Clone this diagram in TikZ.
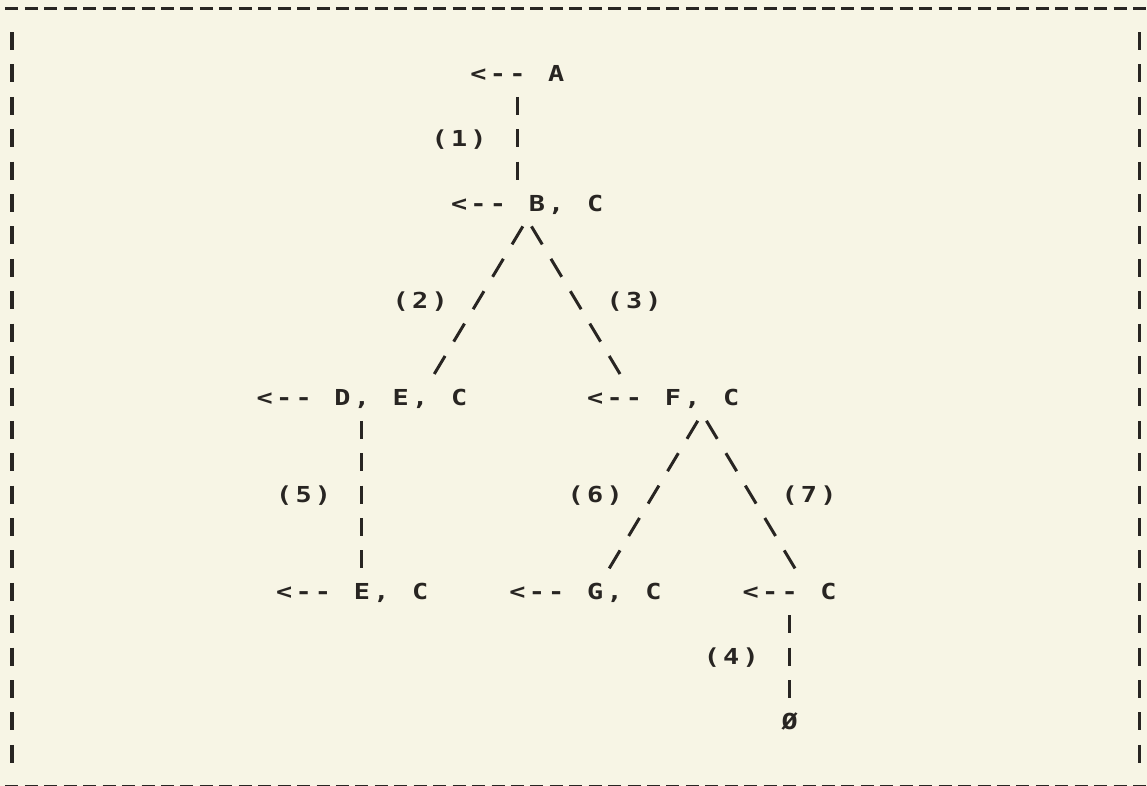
\documentclass[tikz,border=0pt]{standalone}
\usepackage{fontspec}
\newfontfamily\monofont[FakeStretch=1.22]{DejaVu Sans Mono}
\definecolor{paper}{RGB}{247,245,229}
\definecolor{ink}{RGB}{40,37,34}
% typewriter grid: every character sits in a cell of fixed width
\newcommand\monoend{}
\newcommand\mono[1]{\monoA#1\monoend}
\def\monoA#1{\ifx\monoend#1\else\makebox[19.44bp][c]{#1}\expandafter\monoA\fi}
\begin{document}
\begin{tikzpicture}[x=19.44bp, y=-32.4bp,
  txt/.style={anchor=base west, inner sep=0pt, outer sep=0pt, text=ink,
    font=\monofont\bfseries\fontsize{22bp}{26bp}\selectfont},
  vbar/.style={draw=ink, line width=3bp, dash pattern=on 18bp off 14.4bp},
  slash/.style={draw=ink, line width=3bp, dash pattern=on 21bp off 16.78bp},
  hdash/.style={draw=ink, line width=3.3bp, dash pattern=on 13bp off 6.44bp}]
\useasboundingbox[fill=paper] (-0.6173,-0.2654) rectangle (58.3848,23.9938);
% border
\coordinate (tl) at (-0.3344,0);   \coordinate (tr) at (58.3344,0);
\coordinate (bl) at (-0.3344,24);  \coordinate (br) at (58.3344,24);
\coordinate (lt) at (0,0.7222);    \coordinate (lb) at (0,23.2778);
\coordinate (rt) at (58,0.7222);   \coordinate (rb) at (58,23.2778);
\draw[hdash] (tl) -- (tr);
\draw[hdash] (bl) -- (br);
\draw[vbar] (lt) -- (lb);
\draw[vbar] (rt) -- (rb);
% states
\node[txt] (nA)   at (23.5,2.247)  {\mono{<--~A}};
\node[txt] (nBC)  at (22.5,6.247)  {\mono{<--~B,~C}};
\node[txt] (nDEC) at (12.5,12.247) {\mono{<--~D,~E,~C}};
\node[txt] (nFC)  at (29.5,12.247) {\mono{<--~F,~C}};
\node[txt] (nEC)  at (13.5,18.247) {\mono{<--~E,~C}};
\node[txt] (nGC)  at (25.5,18.247) {\mono{<--~G,~C}};
\node[txt] (nC)   at (37.5,18.247) {\mono{<--~C}};
\node[txt] (nZ)   at (39.5,22.247) {\mono{Ø}};
% labels
\node[txt] (l1) at (21.5,4.247)  {\mono{(1)}};
\node[txt] (l2) at (19.5,9.247)  {\mono{(2)}};
\node[txt] (l3) at (30.5,9.247)  {\mono{(3)}};
\node[txt] (l5) at (13.5,15.247) {\mono{(5)}};
\node[txt] (l6) at (28.5,15.247) {\mono{(6)}};
\node[txt] (l7) at (39.5,15.247) {\mono{(7)}};
\node[txt] (l4) at (35.5,20.247) {\mono{(4)}};
% connectors
\coordinate (e1a) at (26,2.7222);       \coordinate (e1b) at (26,5.2778);
\coordinate (e2a) at (26.2778,6.7222);  \coordinate (e2b) at (21.7222,11.2778);
\coordinate (e3a) at (26.7222,6.7222);  \coordinate (e3b) at (31.2778,11.2778);
\coordinate (e5a) at (18,12.7222);      \coordinate (e5b) at (18,17.2778);
\coordinate (e6a) at (35.2778,12.7222); \coordinate (e6b) at (30.7222,17.2778);
\coordinate (e7a) at (35.7222,12.7222); \coordinate (e7b) at (40.2778,17.2778);
\coordinate (e4a) at (40,18.7222);      \coordinate (e4b) at (40,21.2778);
\draw[vbar]  (e1a) -- (e1b);
\draw[slash] (e2a) -- (e2b);
\draw[slash] (e3a) -- (e3b);
\draw[vbar]  (e5a) -- (e5b);
\draw[slash] (e6a) -- (e6b);
\draw[slash] (e7a) -- (e7b);
\draw[vbar]  (e4a) -- (e4b);
\end{tikzpicture}
\end{document}
